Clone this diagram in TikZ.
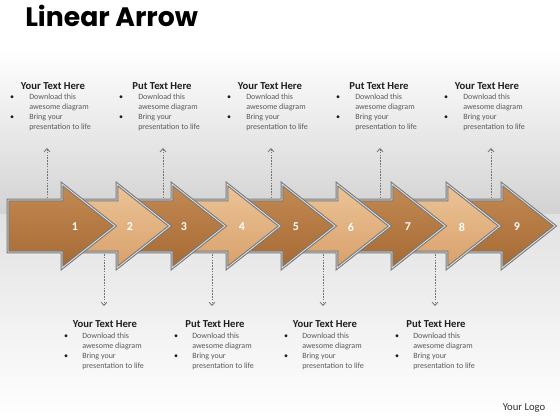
\documentclass[tikz,border=0pt]{standalone}
\usepackage{fontspec}
\setmainfont{Carlito}
\newfontfamily\titlefont{Poppins}
\usetikzlibrary{arrows.meta}
\definecolor{bgA}{RGB}{210,210,210}
\definecolor{bgB}{RGB}{226,226,226}
\definecolor{adTop}{RGB}{196,138,84}
\definecolor{adMid}{RGB}{140,84,34}
\definecolor{adBot}{RGB}{166,106,52}
\definecolor{alTop}{RGB}{236,196,152}
\definecolor{alMid}{RGB}{204,144,90}
\definecolor{alBot}{RGB}{216,160,106}
\definecolor{frameC}{RGB}{120,120,120}
\definecolor{headC}{RGB}{30,30,30}
\definecolor{bodyC}{RGB}{90,90,90}
\tikzset{
  arrdark/.style={top color=adTop, middle color=adMid, bottom color=adBot},
  arrlight/.style={top color=alTop, middle color=alMid, bottom color=alBot},
  arrframe/.style={draw=frameC, line width=2.2pt, line join=miter,
    postaction={draw=white!80!gray, line width=0.6pt}},
  headtxt/.style={font=\bfseries\fontsize{8}{9.6}\selectfont, text=headC, inner sep=0pt},
  bodytxt/.style={font=\fontsize{6}{7.5}\selectfont, text=bodyC, inner sep=0pt, anchor=base west},
  bullettxt/.style={font=\fontsize{6}{7.5}\selectfont, text=headC, inner sep=0pt, anchor=base},
  numtxt/.style={font=\bfseries\fontsize{9}{11}\selectfont, text=white, inner sep=0pt},
  dasharrow/.style={draw=black!55, line width=0.6pt, dash pattern=on 1.2pt off 0.9pt,
    -{Straight Barb[length=2.5pt,width=4.5pt]}},
}
\begin{document}
\begin{tikzpicture}[x=0.75pt,y=-0.75pt]
\useasboundingbox (0,0) rectangle (560,420);
% background
\fill[white] (0,0) rectangle (560,420);
\shade[top color=white, bottom color=bgA] (0,48) rectangle (560,215);
\shade[top color=bgB, bottom color=white] (0,215) rectangle (560,420);
% title
\node[anchor=base west, inner sep=0pt, font=\titlefont\bfseries\fontsize{20}{24}\selectfont] (title) at (25,27) {Linear Arrow};
% top text blocks
\foreach \cx/\hd [count=\i] in {53/Your Text Here, 162/Put Text Here, 270/Your Text Here, 379/Put Text Here, 487/Your Text Here}{
  \node[headtxt] (th\i) at (\cx,86) {\hd};
  \node[bullettxt] (tb\i a) at (\cx-41,100) {•};
  \node[bullettxt] (tb\i b) at (\cx-41,120) {•};
  \node[bodytxt] (tl\i a) at (\cx-24,100) {Download this};
  \node[bodytxt] (tl\i b) at (\cx-24,110) {awesome diagram};
  \node[bodytxt] (tl\i c) at (\cx-24,120) {Bring your};
  \node[bodytxt] (tl\i d) at (\cx-24,130) {presentation to life};
}
% bottom text blocks
\foreach \cx/\hd [count=\i] in {105/Your Text Here, 215/Put Text Here, 325/Your Text Here, 436/Put Text Here}{
  \node[headtxt] (bh\i) at (\cx,324) {\hd};
  \node[bullettxt] (bb\i a) at (\cx-39,338) {•};
  \node[bullettxt] (bb\i b) at (\cx-39,358) {•};
  \node[bodytxt] (bl\i a) at (\cx-23,338) {Download this};
  \node[bodytxt] (bl\i b) at (\cx-23,348) {awesome diagram};
  \node[bodytxt] (bl\i c) at (\cx-23,358) {Bring your};
  \node[bodytxt] (bl\i d) at (\cx-23,368) {presentation to life};
}
% dashed connectors (behind arrows)
\foreach \x [count=\i] in {47,163,271,380,491}{
  \coordinate (us\i) at (\x,215);
  \coordinate (ue\i) at (\x,148);
  \draw[dasharrow] (us\i) -- (ue\i);
}
\foreach \x [count=\i] in {104,212,323,435}{
  \coordinate (ds\i) at (\x,240);
  \coordinate (de\i) at (\x,306);
  \draw[dasharrow] (ds\i) -- (de\i);
}
% arrows, right to left so that left ones lie on top
\foreach \i/\b/\st in {9/502/arrdark, 8/447/arrlight, 7/392/arrdark, 6/337/arrlight, 5/282/arrdark, 4/227/arrlight, 3/172/arrdark, 2/117/arrlight, 1/62/arrdark}{
  \pgfmathsetmacro\s{\i==1 ? 8 : \b-45}
  \path[\st, arrframe] (\s,200) -- (\b,200) -- (\b,184) -- (\b+53,226) -- (\b,268) -- (\b,252) -- (\s,252) -- cycle;
}
% numbers
\foreach \x [count=\i] in {75,130,184,242,296,351,408,462,517}{
  \node[numtxt] (n\i) at (\x,227) {\i};
}
% logo
\node[font=\fontsize{8}{9.6}\selectfont, text=black!80, inner sep=0pt] (logo) at (524,408) {Your Logo};
\end{tikzpicture}
\end{document}
